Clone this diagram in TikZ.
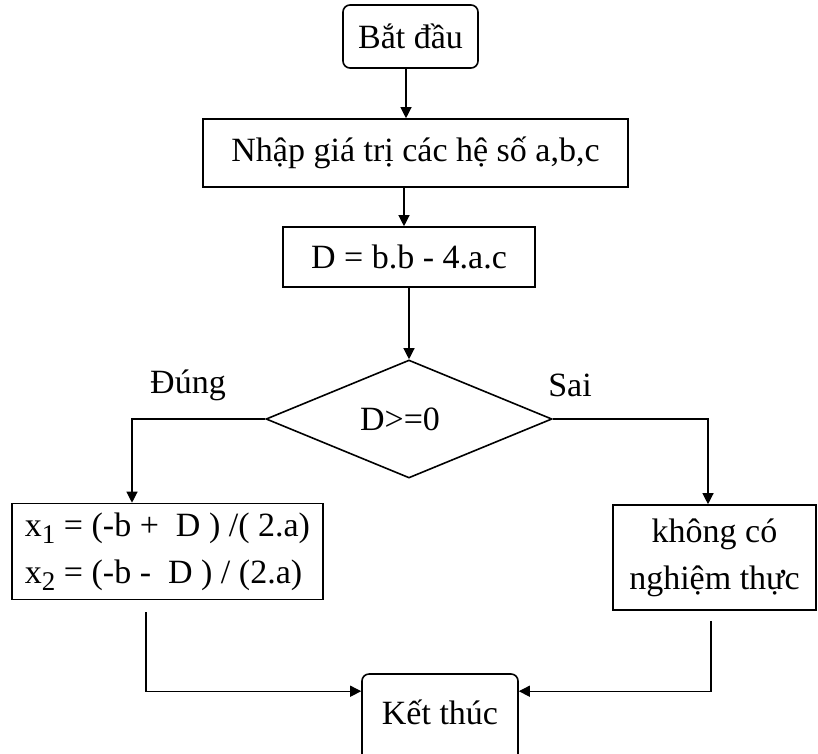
\documentclass[tikz,border=0pt]{standalone}
\usepackage{fontspec}
\setmainfont{Liberation Serif}
\usetikzlibrary{arrows.meta,shapes.geometric}

% lowered index for x_1, x_2
\newcommand{\sbx}[1]{\raisebox{-0.45ex}{\fontsize{27}{27}\selectfont #1}}

\begin{document}
\begin{tikzpicture}[x=1pt,y=-1pt,
    font=\fontsize{34}{47}\selectfont,
    box/.style={draw,line width=1.6pt,inner sep=0pt},
    term/.style={box,rounded corners=7pt},
    arr/.style={line width=1.2pt,-{Triangle[width=11pt,length=11pt]}}]
  \useasboundingbox (0,0) rectangle (818,753);

  % boxes
  \node[term,minimum width=135pt,minimum height=63pt] (start) at (410.5,36.5) {Bắt đầu};
  \node[box,minimum width=425pt,minimum height=68pt] (input) at (415.5,153) {Nhập giá trị các hệ số a,b,c};
  \node[box,minimum width=252pt,minimum height=60pt] (delta) at (409,257) {D = b.b - 4.a.c};
  \node[box,shape=diamond,minimum width=286pt,minimum height=118pt] (test) at (409,419) {\hspace*{-18pt}D>=0};
  \node[box,align=left,minimum width=311pt,minimum height=96pt] (roots) at (167.5,551.5)
    {x\sbx{1} = (-b + \ D ) /( 2.a)\\x\sbx{2} = (-b - \ D ) / (2.a)};
  \node[box,align=center,minimum width=203pt,minimum height=105pt] (noroot) at (714.5,557.5)
    {không có\\nghiệm thực};
  \node[term,minimum width=156pt,minimum height=90pt] (stop) at (440,719) {\raisebox{14pt}{Kết thúc}};

  % branch labels
  \node (yes) at (188,385) {Đúng};
  \node (no) at (570,385) {Sai};

  % arrows
  \draw[arr] ([xshift=-4.5pt]start.south) -- ([xshift=-4.5pt]start.south |- input.north);
  \draw[arr] ([xshift=-11.5pt]input.south) -- ([xshift=-11.5pt]input.south |- delta.north);
  \draw[arr] (delta.south) -- (test.north);
  \draw[arr] (test.west) -| ([xshift=-35.5pt]roots.north);
  \draw[arr] (test.east) -| ([xshift=-6.5pt]noroot.north);
  \draw[arr] ([xshift=-21.5pt,yshift=-12pt]roots.south) |- ([yshift=-18pt]stop.north west);
  \draw[arr] ([xshift=-3.5pt,yshift=-10pt]noroot.south) |- ([yshift=-18pt]stop.north east);
\end{tikzpicture}
\end{document}
